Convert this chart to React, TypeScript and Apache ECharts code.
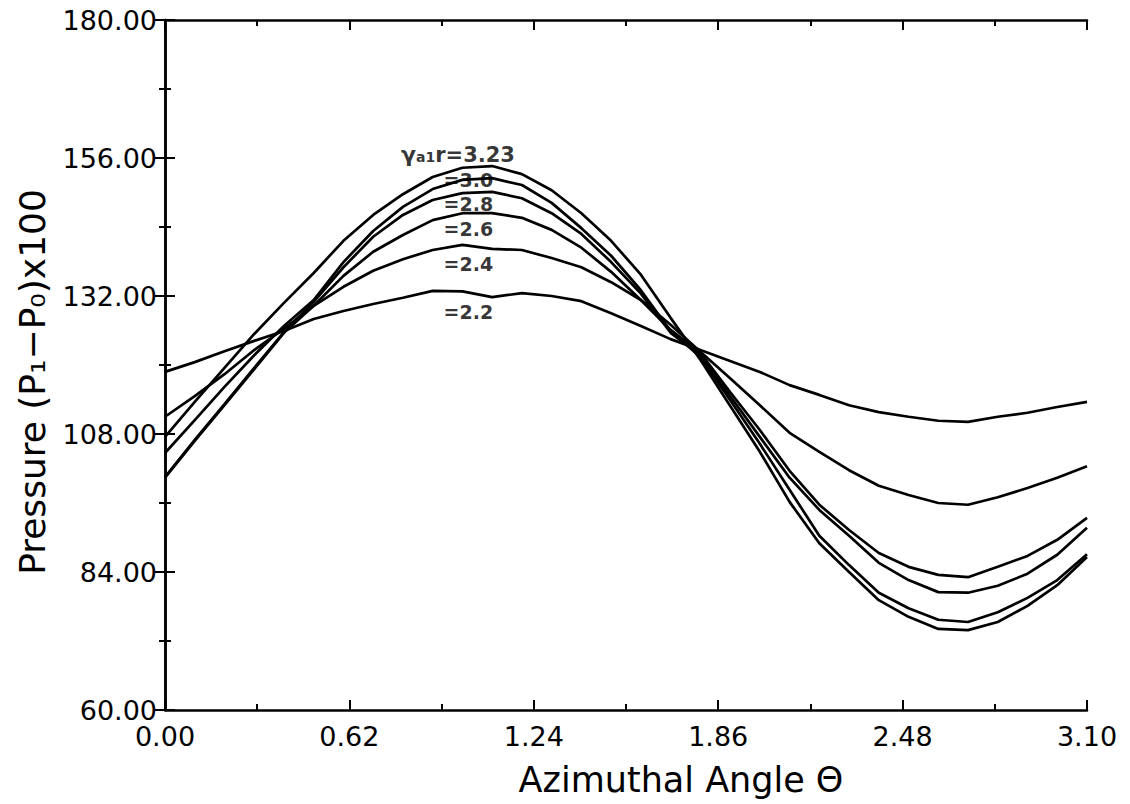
import React, { useEffect, useRef } from "react";
import * as echarts from "echarts";

// Azimuthal angle grid (rad)
const theta = [0, 0.1, 0.2, 0.3, 0.4, 0.5, 0.6, 0.7, 0.8, 0.9, 1.0, 1.1, 1.2, 1.3, 1.4, 1.5, 1.6, 1.7, 1.8, 1.9, 2.0, 2.1, 2.2, 2.3, 2.4, 2.5, 2.6, 2.7, 2.8, 2.9, 3.0, 3.1];

// Pressure (P1-P0)x100 for each gamma_a1 r
const p22 = [118.8, 120.5, 122.4, 124.2, 125.9, 128.0, 129.4, 130.6, 131.7, 132.9, 132.8, 131.8, 132.5, 132.0, 131.1, 129.0, 126.8, 124.5, 122.6, 120.7, 118.8, 116.5, 114.8, 113.0, 111.8, 111.0, 110.3, 110.1, 111.0, 111.7, 112.7, 113.6];
const p24 = [111.0, 114.6, 118.4, 122.6, 126.3, 130.3, 133.6, 136.4, 138.4, 140.0, 140.9, 140.2, 140.0, 138.6, 137.0, 134.4, 131.3, 127.0, 122.3, 117.7, 113.0, 108.2, 104.9, 101.7, 99.0, 97.4, 96.0, 95.7, 97.0, 98.6, 100.4, 102.4];
const p26 = [100.4, 106.8, 113.0, 119.3, 125.6, 130.3, 135.5, 139.7, 142.6, 145.2, 146.4, 146.4, 145.6, 143.5, 140.4, 136.2, 131.3, 126.1, 122.1, 115.3, 108.7, 101.6, 95.7, 91.3, 87.3, 84.9, 83.5, 83.1, 84.9, 86.8, 89.6, 93.4];
const p28 = [100.5, 107.0, 113.2, 119.5, 125.7, 131.0, 137.0, 142.3, 146.1, 148.7, 149.9, 150.1, 149.0, 146.4, 142.8, 137.9, 132.4, 125.6, 121.7, 114.6, 107.5, 100.4, 94.8, 90.3, 85.6, 82.6, 80.5, 80.4, 81.6, 83.7, 87.0, 91.7];
const p30 = [104.7, 110.4, 116.2, 121.7, 126.8, 131.3, 137.9, 143.3, 147.5, 150.6, 152.2, 152.5, 151.3, 148.2, 143.8, 139.0, 133.0, 125.9, 121.4, 113.9, 106.3, 98.3, 90.3, 85.2, 80.4, 77.7, 75.7, 75.3, 77.0, 79.5, 82.6, 87.1];
const p323 = [107.5, 113.6, 119.5, 125.4, 130.8, 136.0, 141.6, 146.1, 149.7, 152.7, 154.3, 154.6, 153.2, 150.4, 146.4, 141.6, 135.7, 128.2, 120.9, 112.9, 104.9, 96.2, 89.0, 84.0, 79.1, 76.2, 74.1, 73.9, 75.3, 78.1, 81.7, 86.6];

// Curve labels (text and anchor in data coordinates)
const labelTexts = ["{g|γ}{s|a1}{n|r=3.23}", "=3.0", "=2.8", "=2.6", "=2.4", "=2.2"];
const labelTheta = [0.985, 1.02, 1.02, 1.02, 1.02, 1.02];
const labelValue = [156.6, 152.1, 148.0, 143.6, 137.5, 129.3];

const xTicks = [0, 0.62, 1.24, 1.86, 2.48, 3.1];

const xTitle = "Azimuthal Angle Θ";
const yTitle = "Pressure (P₁−P₀)x100";

const FONT = "DejaVu Sans";

export default function App() {
  const ref = useRef<HTMLDivElement>(null);
  useEffect(() => {
    if (!ref.current) return;
    const chart = echarts.init(ref.current, null, { renderer: "svg" });
    const curves = [p22, p24, p26, p28, p30, p323];
    const lineSeries = curves.map((vals) => ({
      type: "line",
      data: theta.map((t, i) => [t, vals[i]]),
      showSymbol: false,
      symbol: "none",
      smooth: false,
      lineStyle: { color: "#000", width: 2.7 },
      silent: true,
    }));
    const labelSeries = {
      type: "scatter",
      symbolSize: 1,
      itemStyle: { color: "rgba(0,0,0,0)" },
      data: labelTexts.map((txt, i) => ({ value: [labelTheta[i], labelValue[i]], name: txt })),
      label: {
        show: true,
        position: "inside",
        formatter: (p: any) => p.name,
        color: "#000",
        fontFamily: FONT,
        fontWeight: "bold",
        fontSize: 19,
        lineHeight: 19,
        rich: {
          g: { fontFamily: FONT, fontSize: 22, fontWeight: "bold", color: "#000" },
          s: { fontFamily: FONT, fontSize: 14, fontWeight: "bold", color: "#000", verticalAlign: "bottom", padding: [9, 0, 0, 0] },
          n: { fontFamily: FONT, fontSize: 21, fontWeight: "bold", color: "#000" },
        },
      },
      silent: true,
    };
    const axisLine = { show: true, lineStyle: { color: "#000", width: 2.5 } };
    const tick = { show: true, inside: true, length: 10, lineStyle: { color: "#000", width: 2 } };
    const minor = { show: true, splitNumber: 2, length: 6, lineStyle: { color: "#000", width: 2 } };
    chart.setOption({
      animation: false,
      backgroundColor: "#fff",
      grid: { left: 165, right: 43, top: 20, bottom: 94, containLabel: false },
      graphic: [
        {
          type: "text",
          x: 681,
          y: 762,
          style: {
            text: xTitle,
            fill: "#000",
            font: `35px "${FONT}"`,
            align: "center",
            verticalAlign: "top",
          },
        },
        {
          type: "text",
          x: 14,
          y: 382,
          rotation: Math.PI / 2,
          style: {
            text: yTitle,
            fill: "#000",
            font: `36px "${FONT}"`,
            align: "center",
            verticalAlign: "top",
          },
        },
      ],
      xAxis: [
        {
          type: "value",
          min: 0,
          max: 3.1,
          interval: 0.62,
          position: "bottom",
          axisLine,
          axisTick: tick,
          minorTick: minor,
          splitLine: { show: false },
          axisLabel: {
            color: "#000",
            fontFamily: FONT,
            fontSize: 27,
            margin: 13,
            formatter: (v: number) => {
              const m = xTicks.find((t) => Math.abs(t - v) < 1e-6);
              return (m !== undefined ? m : v).toFixed(2);
            },
          },
        },
        {
          type: "value",
          min: 0,
          max: 3.1,
          interval: 0.62,
          position: "top",
          axisLine,
          axisTick: tick,
          minorTick: minor,
          splitLine: { show: false },
          axisLabel: { show: false },
        },
      ],
      yAxis: [
        {
          type: "value",
          min: 60,
          max: 180,
          interval: 24,
          position: "left",
          axisLine,
          axisTick: tick,
          minorTick: minor,
          splitLine: { show: false },
          axisLabel: {
            color: "#000",
            fontFamily: FONT,
            fontSize: 27,
            margin: 8,
            formatter: (v: number) => v.toFixed(2),
          },
        },
        {
          type: "value",
          min: 60,
          max: 180,
          interval: 24,
          position: "right",
          axisLine,
          axisTick: tick,
          minorTick: minor,
          splitLine: { show: false },
          axisLabel: { show: false },
        },
      ],
      series: [...lineSeries, labelSeries],
    });
    return () => chart.dispose();
  }, []);
  return (
    <div
      ref={ref}
      style={{ position: "fixed", left: 0, top: 0, width: 1130, height: 804, background: "#fff" }}
    />
  );
}
